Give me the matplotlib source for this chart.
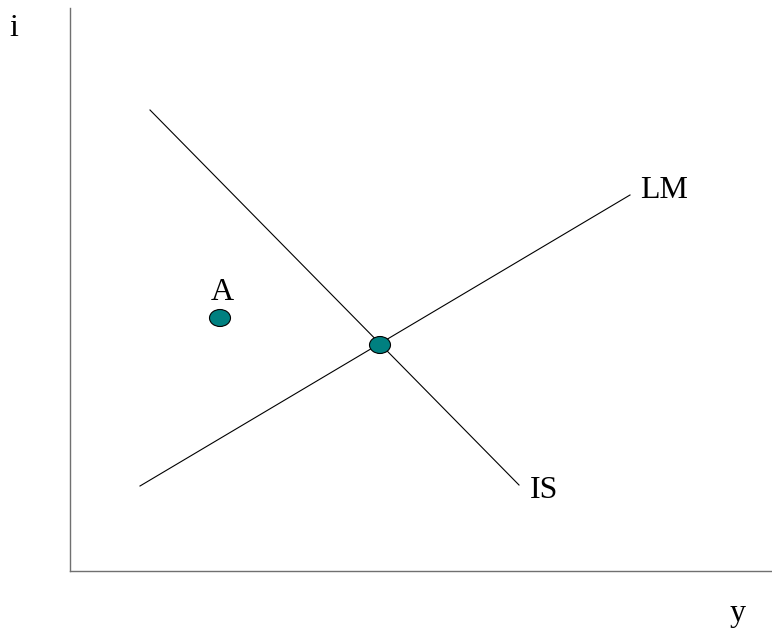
import matplotlib.pyplot as plt
from matplotlib.patches import Ellipse

# IS-LM diagram, coordinates in arbitrary output/interest units
is_x = [80, 449]
is_y = [461, 86]
lm_x = [70, 560]
lm_y = [85, 376]
points = {'eq': (310, 226), 'A': (150, 253)}
labels = [('A', 152, 278, 'center'), ('LM', 570, 381, 'left'), ('IS', 460, 80, 'left')]

plt.rcParams['font.family'] = ['Liberation Serif', 'DejaVu Serif']

fig = plt.figure(figsize=(7.72, 6.34), dpi=100)
ax = fig.add_axes([70 / 772, 63 / 634, 702 / 772, 563 / 634])
ax.set_xlim(0, 702)
ax.set_ylim(0, 563)

ax.plot(is_x, is_y, color='black', linewidth=0.8)
ax.plot(lm_x, lm_y, color='black', linewidth=0.8)

for name, (x, y) in points.items():
    ax.add_patch(Ellipse((x, y), 21, 17, facecolor='#008080',
                         edgecolor='black', linewidth=0.8, zorder=3))

for txt, x, y, ha in labels:
    ax.text(x, y, txt, fontsize=23, ha=ha, va='center')

for side in ['top', 'right']:
    ax.spines[side].set_visible(False)
for side in ['left', 'bottom']:
    ax.spines[side].set_color('#707070')
    ax.spines[side].set_linewidth(1.0)
ax.set_xticks([])
ax.set_yticks([])

fig.text(14 / 772, 1 - 29 / 634, 'i', fontsize=23, ha='center', va='center')
fig.text(738 / 772, 1 - 613 / 634, 'y', fontsize=23, ha='center', va='center')

plt.savefig('out.png', dpi=100)
